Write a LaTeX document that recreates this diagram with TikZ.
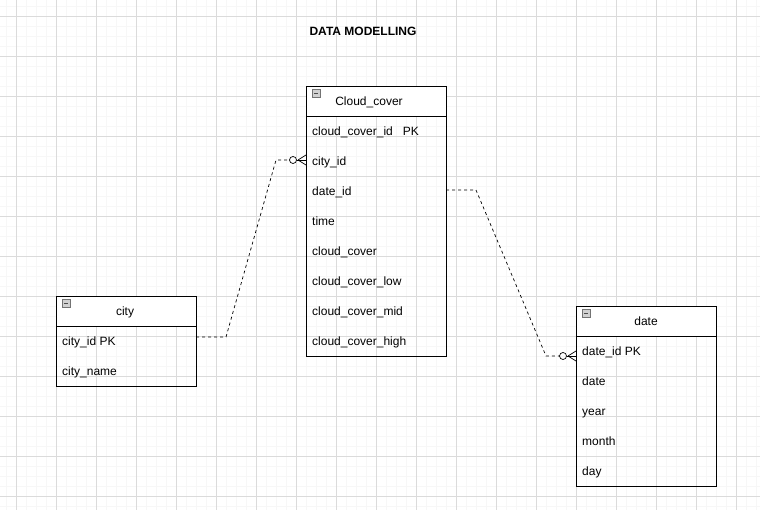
\documentclass[tikz,border=0pt]{standalone}
\usepackage{fontspec}
\setmainfont{Liberation Sans}
\begin{document}
\begin{tikzpicture}[x=1pt,y=-1pt,
  gridminor/.style={draw=black!3,line width=0.6pt},
  gridmajor/.style={draw=black!14,line width=0.6pt},
  hdr/.style={draw=black,line width=0.8pt,minimum width=140pt,minimum height=30pt,anchor=north west,inner sep=0pt},
  body/.style={draw=black,line width=0.8pt,minimum width=140pt,anchor=north west,inner sep=0pt},
  rowtxt/.style={anchor=west,inner xsep=6pt,inner ysep=0pt,text height=8.6pt,text depth=2.6pt,font=\fontsize{12}{14}\selectfont},
  hdrtxt/.style={inner sep=0pt,text height=8.6pt,text depth=2.6pt,font=\fontsize{12}{14}\selectfont},
  erline/.style={draw=black,dashed,dash pattern=on 3pt off 3pt,line width=0.7pt},
  crow/.style={draw=black,line width=0.7pt},
  iconbox/.style={draw=black!55,fill=black!18,line width=0.5pt,minimum size=8pt,inner sep=0pt,anchor=north west},
  title/.style={font=\bfseries\fontsize{12}{14}\selectfont}
]
\useasboundingbox (0,0) rectangle (760,510);
\fill[white] (0,0) rectangle (760,510);
\foreach \x in {6,16,...,756} \draw[gridminor] (\x,0) -- (\x,510);
\foreach \y in {6,16,...,506} \draw[gridminor] (0,\y) -- (760,\y);
\foreach \x in {16,56,...,756} \draw[gridmajor] (\x,0) -- (\x,510);
\foreach \y in {16,56,...,496} \draw[gridmajor] (0,\y) -- (760,\y);

\node[title] (ttl) at (363,31) {DATA MODELLING};

% Cloud_cover
\node[body,minimum height=240pt] (ccb) at (306,116) {};
\node[hdr,fill=white] (cch) at (306,86) {};
\node[hdrtxt] (cct) at (369,102.5) {Cloud\_cover};
\node[iconbox] (cci) at (311.5,89.5) {};
\draw[black!70,line width=0.6pt] ([xshift=2pt]cci.center) -- ([xshift=-2pt]cci.center);
\node[rowtxt] (cc1) at (306,132.5) {cloud\_cover\_id~~~PK};
\node[rowtxt] (cc2) at (306,162.5) {city\_id};
\node[rowtxt] (cc3) at (306,192.5) {date\_id};
\node[rowtxt] (cc4) at (306,222.5) {time};
\node[rowtxt] (cc5) at (306,252.5) {cloud\_cover};
\node[rowtxt] (cc6) at (306,282.5) {cloud\_cover\_low};
\node[rowtxt] (cc7) at (306,312.5) {cloud\_cover\_mid};
\node[rowtxt] (cc8) at (306,342.5) {cloud\_cover\_high};

% city
\node[body,minimum height=60pt] (cityb) at (56,326) {};
\node[hdr,fill=white] (cityh) at (56,296) {};
\node[hdrtxt] (cityt) at (125,312.5) {city};
\node[iconbox] (cityi) at (61.5,299.5) {};
\draw[black!70,line width=0.6pt] ([xshift=2pt]cityi.center) -- ([xshift=-2pt]cityi.center);
\node[rowtxt] (city1) at (56,342.5) {city\_id PK};
\node[rowtxt] (city2) at (56,372.5) {city\_name};

% date
\node[body,minimum height=150pt] (dateb) at (576,336) {};
\node[hdr,fill=white] (dateh) at (576,306) {};
\node[hdrtxt] (datet) at (646,322.5) {date};
\node[iconbox] (datei) at (581.5,309.5) {};
\draw[black!70,line width=0.6pt] ([xshift=2pt]datei.center) -- ([xshift=-2pt]datei.center);
\node[rowtxt] (date1) at (576,352.5) {date\_id PK};
\node[rowtxt] (date2) at (576,382.5) {date};
\node[rowtxt] (date3) at (576,412.5) {year};
\node[rowtxt] (date4) at (576,442.5) {month};
\node[rowtxt] (date5) at (576,472.5) {day};

% connector city -> Cloud_cover
\coordinate (s1) at (196,337);
\coordinate (k1a) at (226,337);
\coordinate (k1b) at (276,160);
\coordinate (e1) at (306,160);
\draw[erline] (s1) -- (k1a) -- (k1b) -- ([xshift=-16.5pt]e1);
\draw[crow] ([xshift=-13pt]e1) circle[radius=3.5pt];
\draw[crow] ([xshift=-9.5pt]e1) -- (e1);
\draw[crow] ([xshift=-8pt]e1) -- ([yshift=5pt]e1);
\draw[crow] ([xshift=-8pt]e1) -- ([yshift=-5pt]e1);

% connector Cloud_cover -> date
\coordinate (s2) at (446,190);
\coordinate (k2a) at (476,190);
\coordinate (k2b) at (546,356);
\coordinate (e2) at (576,356);
\draw[erline] (s2) -- (k2a) -- (k2b) -- ([xshift=-16.5pt]e2);
\draw[crow] ([xshift=-13pt]e2) circle[radius=3.5pt];
\draw[crow] ([xshift=-9.5pt]e2) -- (e2);
\draw[crow] ([xshift=-8pt]e2) -- ([yshift=5pt]e2);
\draw[crow] ([xshift=-8pt]e2) -- ([yshift=-5pt]e2);
\end{tikzpicture}
\end{document}
